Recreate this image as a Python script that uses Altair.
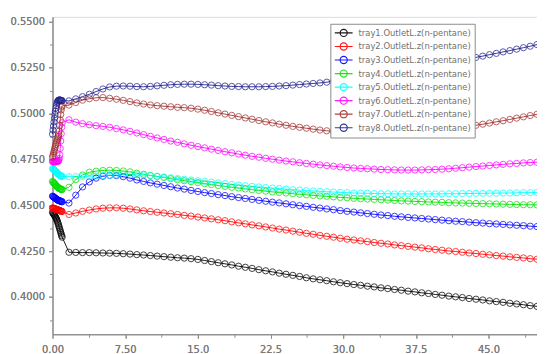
import altair as alt
import pandas as pd

# time axis (hours): dense start-up samples, then samples every 0.7 h
t_start = [0.0, 0.05, 0.1, 0.15, 0.2, 0.25, 0.3, 0.35, 0.4, 0.45, 0.5,
           0.55, 0.6, 0.65, 0.7, 0.75, 0.8, 0.85, 0.9, 0.95, 1.0]
t_main = [1.7, 2.4, 3.1, 3.8, 4.5, 5.2, 5.9, 6.6, 7.3, 8.0,
          8.7, 9.4, 10.1, 10.8, 11.5, 12.2, 12.9, 13.6, 14.3, 15.0,
          15.7, 16.4, 17.1, 17.8, 18.5, 19.2, 19.9, 20.6, 21.3, 22.0,
          22.7, 23.4, 24.1, 24.8, 25.5, 26.2, 26.9, 27.6, 28.3, 29.0,
          29.7, 30.4, 31.1, 31.8, 32.5, 33.2, 33.9, 34.6, 35.3, 36.0,
          36.7, 37.4, 38.1, 38.8, 39.5, 40.2, 40.9, 41.6, 42.3, 43.0,
          43.7, 44.4, 45.1, 45.8, 46.5, 47.2, 47.9, 48.6, 49.3, 50.0]
time = t_start + t_main

tray1 = [.4462, .4458, .4454, .4450, .4446, .4442, .4437, .4432, .4426, .4420, .4413,
         .4405, .4397, .4388, .4379, .4370, .4361, .4352, .4343, .4334, .4326,
         .4244, .4243, .4242, .4242, .4241, .4240, .4239, .4238, .4236, .4234,
         .4231, .4229, .4226, .4223, .4220, .4217, .4214, .4212, .4209, .4205,
         .4199, .4193, .4187, .4181, .4175, .4168, .4162, .4156, .4149, .4143,
         .4137, .4130, .4124, .4118, .4112, .4105, .4099, .4094, .4089, .4083,
         .4078, .4073, .4068, .4064, .4059, .4055, .4050, .4046, .4041, .4037,
         .4032, .4028, .4023, .4019, .4014, .4010, .4005, .4001, .3997, .3992,
         .3988, .3984, .3979, .3975, .3971, .3966, .3962, .3958, .3953, .3949]
tray2 = [.4486, .4485, .4484, .4483, .4482, .4481, .4480, .4479, .4478, .4477, .4476,
         .4475, .4474, .4473, .4472, .4471, .4470, .4469, .4468, .4467, .4466,
         .4450, .4458, .4467, .4474, .4480, .4484, .4486, .4486, .4484, .4480,
         .4475, .4470, .4466, .4462, .4458, .4454, .4450, .4445, .4441, .4436,
         .4431, .4426, .4421, .4416, .4410, .4404, .4399, .4393, .4388, .4382,
         .4376, .4370, .4365, .4359, .4353, .4347, .4342, .4336, .4331, .4326,
         .4320, .4315, .4311, .4306, .4302, .4297, .4293, .4289, .4284, .4280,
         .4276, .4272, .4268, .4263, .4259, .4255, .4251, .4248, .4244, .4240,
         .4237, .4233, .4230, .4226, .4223, .4219, .4216, .4213, .4209, .4206]
tray3 = [.4550, .4548, .4546, .4544, .4542, .4540, .4538, .4536, .4534, .4532, .4530,
         .4528, .4527, .4526, .4525, .4524, .4523, .4522, .4521, .4520, .4519,
         .4512, .4555, .4600, .4627, .4648, .4658, .4663, .4662, .4656, .4648,
         .4638, .4630, .4622, .4615, .4608, .4601, .4594, .4588, .4581, .4575,
         .4569, .4564, .4558, .4553, .4547, .4542, .4537, .4532, .4527, .4522,
         .4517, .4513, .4508, .4503, .4498, .4494, .4489, .4485, .4480, .4476,
         .4471, .4467, .4463, .4459, .4455, .4451, .4447, .4444, .4440, .4437,
         .4434, .4431, .4428, .4425, .4422, .4419, .4416, .4413, .4411, .4408,
         .4405, .4403, .4400, .4398, .4396, .4393, .4391, .4389, .4386, .4384]
tray4 = [.4630, .4627, .4624, .4621, .4618, .4615, .4612, .4609, .4606, .4603, .4600,
         .4598, .4596, .4594, .4592, .4590, .4589, .4588, .4587, .4586, .4586,
         .4598, .4640, .4665, .4680, .4686, .4690, .4691, .4690, .4687, .4682,
         .4675, .4669, .4663, .4657, .4651, .4645, .4639, .4634, .4629, .4624,
         .4618, .4613, .4608, .4603, .4598, .4594, .4589, .4585, .4581, .4577,
         .4573, .4570, .4567, .4563, .4560, .4557, .4554, .4551, .4549, .4546,
         .4543, .4541, .4538, .4536, .4534, .4532, .4530, .4528, .4526, .4524,
         .4523, .4521, .4520, .4518, .4517, .4516, .4514, .4513, .4512, .4511,
         .4510, .4509, .4508, .4507, .4506, .4505, .4504, .4503, .4503, .4502]
tray5 = [.4700, .4698, .4696, .4694, .4692, .4690, .4687, .4684, .4681, .4678, .4675,
         .4672, .4670, .4668, .4666, .4664, .4662, .4660, .4659, .4658, .4657,
         .4656, .4656, .4657, .4658, .4660, .4662, .4664, .4666, .4667, .4668,
         .4667, .4665, .4662, .4658, .4654, .4650, .4646, .4642, .4638, .4634,
         .4630, .4626, .4622, .4618, .4614, .4610, .4607, .4603, .4600, .4597,
         .4594, .4591, .4588, .4585, .4583, .4580, .4578, .4576, .4574, .4572,
         .4570, .4569, .4567, .4566, .4565, .4564, .4563, .4563, .4562, .4562,
         .4562, .4562, .4562, .4562, .4562, .4562, .4563, .4563, .4564, .4564,
         .4565, .4565, .4566, .4566, .4567, .4567, .4568, .4569, .4569, .4570]
tray6 = [.4738, .4738, .4737, .4737, .4737, .4737, .4737, .4737, .4738, .4738, .4739,
         .4740, .4742, .4746, .4755, .4775, .4810, .4850, .4890, .4925, .4950,
         .4966, .4953, .4945, .4939, .4934, .4930, .4925, .4918, .4911, .4903,
         .4894, .4885, .4876, .4867, .4859, .4850, .4843, .4835, .4827, .4820,
         .4813, .4806, .4799, .4792, .4786, .4779, .4773, .4767, .4762, .4756,
         .4751, .4746, .4741, .4737, .4732, .4728, .4724, .4720, .4716, .4713,
         .4709, .4706, .4703, .4701, .4699, .4697, .4695, .4694, .4693, .4692,
         .4692, .4692, .4693, .4694, .4695, .4697, .4699, .4702, .4705, .4708,
         .4711, .4714, .4717, .4720, .4723, .4726, .4728, .4731, .4733, .4735]
tray7 = [.4762, .4772, .4782, .4792, .4802, .4812, .4822, .4832, .4842, .4850, .4858,
         .4866, .4874, .4885, .4905, .4935, .4965, .4995, .5020, .5035, .5042,
         .5046, .5060, .5073, .5081, .5086, .5087, .5083, .5078, .5072, .5065,
         .5058, .5052, .5047, .5043, .5040, .5037, .5034, .5032, .5029, .5024,
         .5018, .5011, .5004, .4997, .4990, .4983, .4976, .4969, .4962, .4955,
         .4949, .4942, .4936, .4930, .4925, .4920, .4915, .4910, .4906, .4902,
         .4899, .4897, .4895, .4893, .4892, .4891, .4891, .4891, .4891, .4892,
         .4893, .4895, .4898, .4901, .4905, .4909, .4914, .4919, .4924, .4930,
         .4936, .4942, .4948, .4955, .4961, .4968, .4975, .4982, .4989, .4996]
tray8 = [.4888, .4910, .4932, .4954, .4975, .4995, .5013, .5030, .5044, .5055, .5063,
         .5068, .5071, .5073, .5074, .5074, .5073, .5072, .5071, .5070, .5070,
         .5069, .5080, .5092, .5105, .5120, .5134, .5145, .5149, .5150, .5149,
         .5147, .5146, .5148, .5151, .5154, .5157, .5159, .5160, .5160, .5159,
         .5157, .5155, .5152, .5150, .5148, .5147, .5146, .5146, .5146, .5147,
         .5148, .5150, .5152, .5155, .5158, .5161, .5164, .5167, .5171, .5176,
         .5181, .5187, .5193, .5199, .5205, .5211, .5217, .5223, .5229, .5235,
         .5241, .5247, .5254, .5260, .5266, .5273, .5279, .5286, .5292, .5299,
         .5306, .5313, .5321, .5328, .5336, .5343, .5351, .5359, .5367, .5376]

series_names = ["tray1.OutletL.z(n-pentane)", "tray2.OutletL.z(n-pentane)",
                "tray3.OutletL.z(n-pentane)", "tray4.OutletL.z(n-pentane)",
                "tray5.OutletL.z(n-pentane)", "tray6.OutletL.z(n-pentane)",
                "tray7.OutletL.z(n-pentane)", "tray8.OutletL.z(n-pentane)"]
series_colors = ["#000000", "#ff0000", "#0000ff", "#00e000",
                 "#00ffff", "#ff00ff", "#a03030", "#20208f"]

x_ticks = [0, 7.5, 15, 22.5, 30, 37.5, 45]
x_minor = [3.75, 11.25, 18.75, 26.25, 33.75, 41.25, 48.75]
y_ticks = [0.4, 0.425, 0.45, 0.475, 0.5, 0.525, 0.55]
y_minor = [0.3875, 0.4125, 0.4375, 0.4625, 0.4875, 0.5125, 0.5375]

all_series = [tray1, tray2, tray3, tray4, tray5, tray6, tray7, tray8]
rows = []
for k, (name, vals) in enumerate(zip(series_names, all_series)):
    for t, v in zip(time, vals):
        rows.append({"t": t, "z": v, "series": name, "k": k})
df = pd.DataFrame(rows)

x_scale = alt.Scale(domain=[0, 50], nice=False, zero=False)
y_scale = alt.Scale(domain=[0.3797, 0.5527], nice=False, zero=False)

axis_common = dict(title=None, grid=False, domainColor="#8c8c8c", tickColor="#8c8c8c",
                   labelColor="#7a7a7a", labelFont="DejaVu Sans", labelFontSize=10,
                   tickSize=4, labelFlush=False, labelOverlap=False)

x_axis = alt.Axis(values=x_ticks,
                  labelExpr="datum.value < 10 ? format(datum.value, '.2f') : format(datum.value, '.1f')",
                  labelPadding=6, orient="bottom", **axis_common)
y_axis = alt.Axis(values=y_ticks, format=".4f", labelPadding=4, orient="left", **axis_common)

legend = alt.Legend(
    title=None, orient="none", legendX=281, legendY=7,
    symbolType="M-1,0L1,0M0.4,0A0.4,0.4,0,1,1,-0.4,0A0.4,0.4,0,1,1,0.4,0",
    symbolSize=324, symbolStrokeWidth=1.2, symbolFillColor="transparent",
    labelFont="DejaVu Sans", labelFontSize=8.5, labelColor="#707070",
    fillColor="white", strokeColor="#8c8c8c", padding=3.5, rowPadding=1.7,
    clipHeight=11.5, labelOffset=5,
)

color = alt.Color("series:N", scale=alt.Scale(domain=series_names, range=series_colors),
                  legend=legend, sort=series_names)

base = alt.Chart(df)
lines = base.mark_line(strokeWidth=1, opacity=0.9).encode(
    x=alt.X("t:Q", scale=x_scale, axis=x_axis),
    y=alt.Y("z:Q", scale=y_scale, axis=y_axis),
    color=color,
    order="t:Q",
)
points = base.mark_point(shape="circle", filled=False, size=40, strokeWidth=1, opacity=0.75).encode(
    x=alt.X("t:Q", scale=x_scale, axis=x_axis),
    y=alt.Y("z:Q", scale=y_scale, axis=y_axis),
    color=color,
    order="k:Q",
)

minor_df = pd.DataFrame({"mx": x_minor, "my": y_minor})
minor = alt.Chart(minor_df).mark_point(opacity=0).encode(
    x=alt.X("mx:Q", scale=x_scale,
            axis=alt.Axis(values=x_minor, labels=False, domain=False, title=None, grid=False,
                          tickColor="#8c8c8c", tickSize=3, orient="bottom")),
    y=alt.Y("my:Q", scale=y_scale,
            axis=alt.Axis(values=y_minor, labels=False, domain=False, title=None, grid=False,
                          tickColor="#8c8c8c", tickSize=3, orient="left")),
)

chart = alt.layer(lines, points, minor).resolve_axis(x="independent", y="independent").properties(
    width=490, height=321,
    autosize=alt.AutoSizeParams(type="none"),
    padding={"left": 45, "top": 7, "right": 0, "bottom": 18},
).configure_view(stroke="#b0b0b0", strokeWidth=1).configure(background="white")

chart.save("out.html", embed_options={"renderer": "svg", "actions": False})
